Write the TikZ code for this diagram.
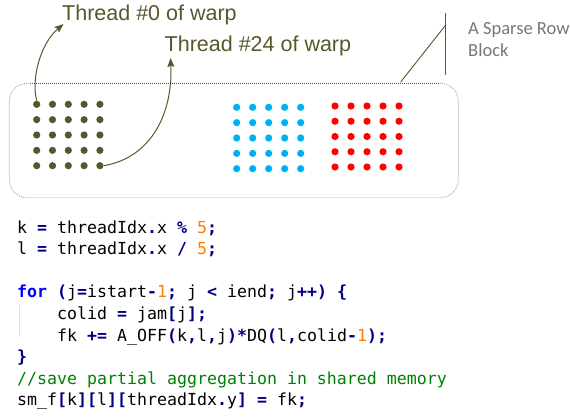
\documentclass[tikz,border=0pt]{standalone}
\usepackage{fontspec}
\setmainfont{Liberation Sans}
\setmonofont{DejaVu Sans Mono}
\newfontfamily\calfont{Carlito}
\usetikzlibrary{arrows.meta}
\definecolor{olive}{RGB}{90,86,44}
\definecolor{boxlight}{RGB}{178,178,150}
\definecolor{cyandot}{RGB}{0,176,240}
\definecolor{reddot}{RGB}{255,0,0}
\definecolor{graytext}{RGB}{118,118,118}
\definecolor{opc}{RGB}{0,0,128}
\definecolor{kwc}{RGB}{0,0,255}
\definecolor{numc}{RGB}{255,128,0}
\definecolor{cmc}{RGB}{0,128,0}
\definecolor{guide}{RGB}{225,225,225}
\newcommand\opx[1]{\textcolor{opc}{\bfseries #1}}
\newcommand\nmx[1]{\textcolor{numc}{#1}}
\newcommand\kwx[1]{\textcolor{kwc}{\bfseries #1}}
\tikzset{
  dotO/.style={circle,fill=olive,inner sep=0pt,minimum size=7.2pt},
  dotC/.style={circle,fill=cyandot,inner sep=0pt,minimum size=7.2pt},
  dotR/.style={circle,fill=reddot,inner sep=0pt,minimum size=7.2pt},
  threadlab/.style={anchor=base west,inner sep=0pt,text=olive,font=\fontsize{21.5}{24}\selectfont},
  graylab/.style={anchor=base west,inner sep=0pt,text=graytext,font=\calfont\fontsize{18.5}{21.5}\selectfont},
  codeline/.style={anchor=base west,inner sep=0pt,font=\ttfamily\fontsize{16.6}{20}\selectfont},
  warparrow/.style={draw=olive,line width=1pt,-{Stealth[length=9pt,width=7pt,inset=1.5pt]}},
  calloutline/.style={draw=olive,line width=0.9pt},
  boxside/.style={draw=boxlight,line width=0.9pt,dash pattern=on 1pt off 1pt,rounded corners=18pt},
  boxtop/.style={draw=olive,line width=0.9pt,dash pattern=on 1pt off 1pt},
}
\begin{document}
\begin{tikzpicture}[x=1pt,y=-1pt]
\useasboundingbox (0,0) rectangle (570,417);
% block box
\coordinate (bxA) at (9.3,83.3);
\coordinate (bxB) at (458.3,197.7);
\coordinate (tA) at (30,83.3);
\coordinate (tB) at (440,83.3);
\draw[boxside] (bxA) rectangle (bxB);
\draw[white,line width=1.5pt] (tA) -- (tB);
\draw[boxtop] (tA) -- (tB);
% dots
\foreach \i in {0,...,4}{
  \foreach \j in {0,...,4}{
    \node[dotO] (o\j\i) at (36.7+15.8*\i,104.3+15.35*\j) {};
    \node[dotC] (c\j\i) at (236.7+16*\i,107.3+15.35*\j) {};
    \node[dotR] (r\j\i) at (335+16*\i,106+15.25*\j) {};
  }
}
% labels
\node[threadlab] (lab0) at (62,20.7) {Thread \#0 of warp};
\node[threadlab] (lab24) at (164.5,51.7) {Thread \#24 of warp};
\node[graylab] (sp1) at (468,35) {A Sparse Row};
\node[graylab] (sp2) at (468,56.7) {Block};
% arrows
\coordinate (tip0) at (63.5,24);
\coordinate (tip24) at (170.5,58);
\draw[warparrow] (o00.north) .. controls (31,80) and (40,44) .. (tip0);
\draw[warparrow] (o44.east) .. controls (150,158) and (173,115) .. (tip24);
% callout
\coordinate (cvT) at (445.7,12.7);
\coordinate (cvB) at (445.7,75);
\coordinate (cvM) at (445.7,25);
\coordinate (cvE) at (400.7,82);
\draw[calloutline] (cvT) -- (cvB);
\draw[calloutline] (cvM) -- (cvE);
% code
\coordinate (gT) at (19,305);
\coordinate (gB) at (19,337);
\draw[guide,line width=0.8pt] (gT) -- (gB);
\node[codeline] (c1) at (17,233) {k \opx{=} threadIdx\opx{.}x \opx{\%} \nmx{5}\opx{;}};
\node[codeline] (c2) at (17,254.6) {l \opx{=} threadIdx\opx{.}x \opx{/} \nmx{5}\opx{;}};
\node[codeline] (c3) at (17,297.8) {\kwx{for} \opx{(}j\opx{=}istart\opx{-}\nmx{1}\opx{;} j \opx{<} iend\opx{;} j\opx{++)} \opx{\{}};
\node[codeline] (c4) at (57,319.4) {colid \opx{=} jam\opx{[}j\opx{];}};
\node[codeline] (c5) at (57,341) {fk \opx{+=} A\_OFF\opx{(}k\opx{,}l\opx{,}j\opx{)*}DQ\opx{(}l\opx{,}colid\opx{-}\nmx{1}\opx{);}};
\node[codeline] (c6) at (17,362.6) {\opx{\}}};
\node[codeline] (c7) at (17,384.2) {\textcolor{cmc}{//save partial aggregation in shared memory}};
\node[codeline] (c8) at (17,405.8) {sm\_f\opx{[}k\opx{][}l\opx{][}threadIdx\opx{.}y\opx{]} \opx{=} fk\opx{;}};
\end{tikzpicture}
\end{document}
